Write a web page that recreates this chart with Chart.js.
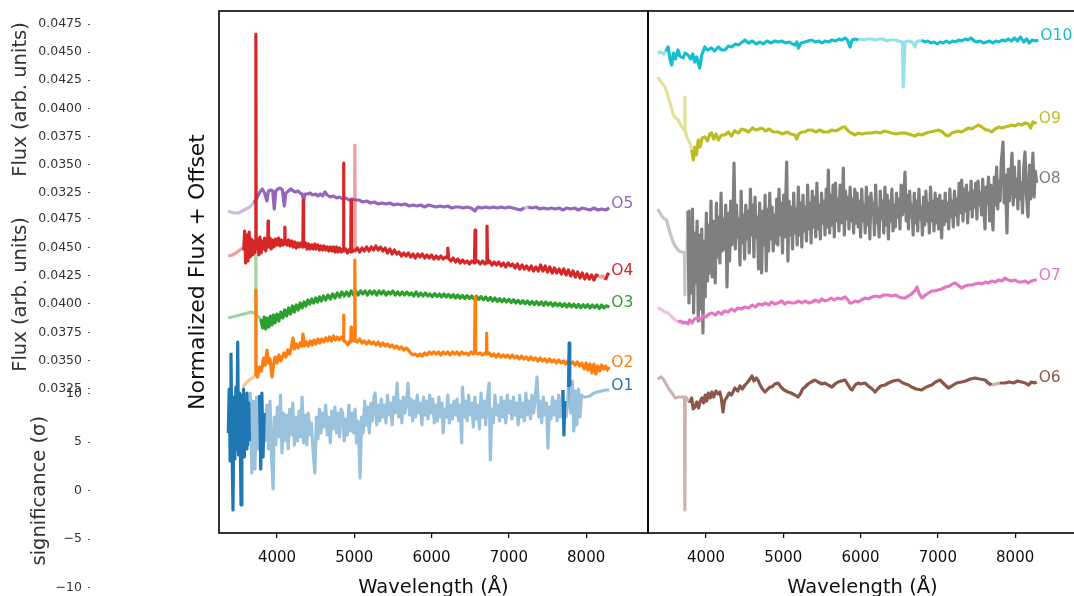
<!DOCTYPE html>
<html>
<head>
<meta charset="utf-8">
<script src="https://cdn.jsdelivr.net/npm/chart.js@4.4.1/dist/chart.umd.min.js"></script>
<style>
  html, body { margin: 0; padding: 0; background: #fff; overflow: hidden; }
  #fig { position: relative; width: 1074px; height: 596px; overflow: hidden; background: #fff; }
  #fig canvas { position: absolute; }
</style>
</head>
<body>
<div id="fig">
  <canvas id="fluxA" width="100" height="200" style="left:0;top:0;width:100px;height:200px"></canvas>
  <canvas id="fluxB" width="100" height="210" style="left:0;top:190px;width:100px;height:210px"></canvas>
  <canvas id="signif" width="100" height="216" style="left:0;top:380px;width:100px;height:216px"></canvas>
  <canvas id="blue" width="472" height="596" style="left:181px;top:0;width:472px;height:596px"></canvas>
  <canvas id="red" width="440" height="596" style="left:640px;top:0;width:440px;height:596px"></canvas>
</div>
<script>
// tick values
const waveTicks = [4000, 5000, 6000, 7000, 8000];
const fluxTicks = [0.0325, 0.035, 0.0375, 0.04, 0.0425, 0.045, 0.0475];
const sigTicks = [-10, -5, 0, 5, 10];

// spectra: [wavelength (A), normalized flux + offset]
const o1 = [[3370,5.0],[3382,7.2],[3394,3.6],[3405,8.95],[3418,4.4],[3431,1.15],[3444,6.8],[3456,3.7],[3468,7.3],[3480,4.2],[3492,9.55],[3504,3.9],[3516,7.0],[3526,4.3],[3535,1.4],[3546,6.9],[3556,4.0],[3568,7.2],[3578,3.8],[3590,6.6],[3600,4.2],[3612,7.0],[3622,4.4],[3634,6.5],[3644,4.6],
  [3655,7.0],[3675,3.0],[3695,6.6],[3715,3.2],[3735,6.8],[3755,4.2],[3775,6.9],[3790,3.2],[3805,7.0],[3820,3.8],[3835,6.0],
  [3850,4.6],[3870,6.4],[3890,4.2],[3910,6.6],[3930,3.8],[3950,2.2],[3965,5.8],[3985,4.4],[4005,6.3],[4025,4.8],[4045,6.9],[4065,4.0],[4085,6.0],[4105,4.6],[4125,5.9],[4145,4.2],[4165,6.2],[4185,4.9],[4205,6.5],[4225,4.4],[4245,5.8],[4265,4.6],[4285,6.1],[4305,4.8],[4325,6.8],[4345,4.5],[4365,5.9],[4385,4.4],[4405,6.0],[4425,4.9],[4445,5.5],[4465,4.2],[4490,3.0],[4510,5.8],[4530,4.7],[4550,6.2],[4570,5.0],[4590,6.0],[4610,5.3],[4630,6.4],[4650,4.9],[4670,5.8],[4690,4.5],[4710,6.1],[4730,5.2],[4750,6.3],[4770,5.0],[4790,6.0],[4810,4.8],[4830,6.2],[4850,6.0],[4870,4.6],[4890,5.7],[4910,4.9],[4930,6.4],[4950,5.1],[4970,6.0],[4990,5.0],[5010,6.2],[5030,4.5],[5050,5.6],[5075,2.75],[5095,5.8],[5115,5.0],[5135,6.6],[5155,5.4],[5175,6.3],[5195,5.0],[5215,6.5],[5235,5.6],[5255,6.8],[5270,7.0],[5290,5.4],[5310,6.4],[5330,5.6],[5350,6.7],[5370,5.8],[5390,6.4],[5410,5.5],[5430,6.9],[5450,5.9],[5470,6.5],[5490,5.4],[5510,6.8],[5530,6.0],[5555,7.5],[5575,5.8],[5595,6.6],[5615,5.5],[5635,6.8],[5655,6.0],[5675,6.5],[5695,7.5],[5715,5.9],[5735,6.7],[5755,5.6],[5775,6.6],[5795,5.8],[5815,6.9],[5835,6.0],[5855,6.5],[5875,5.4],[5895,6.8],[5915,5.9],[5935,6.6],[5955,5.7],[5975,6.9],[5995,6.0],[6015,6.7],[6035,5.5],[6055,6.4],[6075,5.6],[6095,6.8],[6115,5.8],[6135,6.5],[6150,5.0],[6170,6.2],[6190,5.8],[6210,6.9],[6230,5.5],[6250,6.4],[6270,5.7],[6290,6.6],[6310,5.9],[6330,6.7],[6350,5.6],[6370,6.4],[6390,4.5],[6400,7.3],[6420,5.8],[6440,6.6],[6460,5.6],[6480,6.9],[6500,5.9],[6520,6.5],[6540,5.3],[6560,6.8],[6580,5.7],[6600,6.4],[6620,5.2],[6640,7.0],[6660,5.8],[6680,6.6],[6700,5.4],[6720,6.7],[6745,7.5],[6760,3.65],[6780,6.2],[6800,5.5],[6820,6.9],[6840,5.9],[6860,6.4],[6880,5.6],[6900,6.8],[6920,5.8],[6940,6.6],[6960,5.5],[6980,6.9],[7000,6.0],[7020,6.6],[7040,5.7],[7060,6.8],[7080,5.9],[7100,6.5],[7120,5.4],[7140,6.9],[7160,5.8],[7180,6.5],[7200,5.6],[7220,7.0],[7240,5.9],[7260,6.6],[7280,5.7],[7300,6.9],[7320,6.0],[7340,6.7],[7365,7.8],[7385,5.8],[7405,6.6],[7425,5.5],[7445,6.8],[7465,5.9],[7485,6.5],[7505,4.25],[7525,6.3],[7545,5.7],[7565,6.8],[7585,5.9],[7605,6.6],[7625,5.6],[7645,6.9],[7665,5.8],[7685,6.4],
  [7700,7.15],[7712,4.9],[7724,6.6],[7740,5.8],[7760,6.5],[7772,7.3],[7780,9.5],[7788,7.4],[7800,6.0],[7820,7.6],[7840,5.1],[7860,7.1],[7880,5.4],[7900,7.2],[7920,5.8],[7940,6.9],[7960,6.8],[8000,6.8],[8050,6.85],[8100,7.0],[8150,7.05],[8200,7.1],[8250,7.15],[8300,7.15]];
const o2 = [[3560,7.3],[3600,7.5],[3640,7.65],[3680,7.75],[3715,7.85],[3723,7.9],[3727,12.15],[3731,7.9],[3750,7.8],[3775,8.3],[3800,8.1],[3825,8.75],[3850,8.4],[3871,9.15],[3890,8.5],[3910,8.7],[3936,7.8],[3955,8.4],[3975,8.8],[4000,8.5],[4025,8.9],[4050,8.6],[4065,8.75],[4090,9.0],[4115,8.8],[4140,9.15],[4165,8.95],[4185,9.3],[4207,9.75],[4225,9.2],[4250,9.45],[4275,9.25],[4300,9.5],[4320,9.35],[4337,9.95],[4355,9.35],[4380,9.55],[4405,9.35],[4430,9.6],[4455,9.4],[4480,9.65],[4505,9.45],[4530,9.7],[4555,9.5],[4580,9.7],[4605,9.55],[4630,9.75],[4655,9.6],[4680,9.8],[4705,9.6],[4730,9.85],[4755,9.65],[4780,9.8],[4805,9.65],[4830,9.8],[4855,9.7],[4861,10.9],[4867,9.6],[4890,9.55],[4919,9.4],[4940,9.6],[4954,9.55],[4959,10.3],[4964,9.6],[4985,9.7],[5002,9.6],[5007,13.65],[5012,9.6],[5040,9.55],[5070,9.7],[5100,9.5],[5130,9.6],[5160,9.45],[5190,9.6],[5220,9.45],[5250,9.55],[5280,9.4],[5310,9.55],[5340,9.35],[5370,9.5],[5400,9.35],[5430,9.45],[5460,9.3],[5490,9.4],[5520,9.25],[5550,9.35],[5580,9.2],[5610,9.3],[5640,9.15],[5670,9.25],[5700,9.15],[5730,9.0],[5760,8.9],[5790,8.95],[5820,8.85],[5850,8.95],[5880,8.85],[5910,9.0],[5940,8.9],[5970,9.05],[6000,8.95],[6030,9.05],[6060,8.95],[6090,9.05],[6120,8.9],[6150,9.05],[6180,8.95],[6210,9.05],[6240,8.9],[6270,9.05],[6300,8.95],[6330,9.05],[6360,8.9],[6390,9.05],[6420,8.95],[6450,9.0],[6480,8.9],[6510,9.05],[6540,8.95],[6556,9.05],[6563,11.8],[6570,9.0],[6600,8.95],[6630,9.0],[6660,8.9],[6690,9.0],[6706,8.95],[6712,10.0],[6718,8.95],[6745,9.0],[6775,8.85],[6805,8.95],[6835,8.8],[6865,8.95],[6895,8.8],[6925,8.9],[6955,8.8],[6985,8.9],[7015,8.75],[7045,8.9],[7075,8.75],[7105,8.85],[7135,8.7],[7165,8.85],[7195,8.7],[7225,8.8],[7255,8.65],[7285,8.8],[7315,8.65],[7345,8.75],[7375,8.6],[7405,8.75],[7435,8.6],[7465,8.7],[7495,8.55],[7525,8.7],[7555,8.55],[7585,8.65],[7615,8.5],[7645,8.65],[7675,8.5],[7705,8.6],[7735,8.45],[7765,8.6],[7795,8.45],[7825,8.55],[7855,8.4],[7885,8.55],[7915,8.35],[7945,8.5],[7975,8.2],[8000,8.5],[8025,8.15],[8050,8.45],[8075,8.0],[8100,8.45],[8125,7.95],[8150,8.35],[8175,8.1],[8200,8.4],[8225,8.2],[8250,8.35],[8275,8.15],[8300,8.3]];
const o3 = [[3370,10.75],[3420,10.8],[3470,10.85],[3520,10.9],[3570,10.95],[3620,11.0],[3670,11.05],[3700,11.0],[3723,10.95],[3727,13.85],[3731,10.9],[3760,10.8],[3790,10.7],
  [3815,10.25],[3835,10.8],[3855,10.2],[3875,10.75],[3895,10.3],[3915,10.85],[3935,10.4],[3955,10.9],[3975,10.5],[4000,10.95],[4025,10.6],[4050,11.05],[4075,10.75],[4100,11.15],[4125,10.85],[4150,11.25],[4175,10.95],[4200,11.35],[4225,11.05],[4250,11.4],[4275,11.15],[4300,11.5],[4325,11.25],[4350,11.55],[4375,11.35],[4400,11.65],[4425,11.45],[4450,11.7],[4475,11.5],[4500,11.75],[4525,11.55],[4550,11.8],[4575,11.6],[4600,11.85],[4630,11.65],[4660,11.9],[4690,11.7],[4720,11.95],[4750,11.75],[4780,12.0],[4810,11.8],[4840,12.05],[4870,11.85],[4900,12.05],[4930,11.85],[4960,12.1],[4990,11.9],[5020,12.1],[5050,11.9],[5080,12.1],[5110,11.95],[5140,12.1],[5170,11.9],[5200,12.1],[5230,11.95],[5260,12.1],[5290,11.9],[5320,12.1],[5350,11.95],[5380,12.1],[5410,11.9],[5440,12.05],[5470,11.95],[5500,12.1],[5530,11.9],[5560,12.05],[5590,11.9],[5620,12.05],[5650,11.9],[5680,12.05],[5710,11.9],[5740,12.0],[5770,11.85],[5800,12.05],[5830,11.85],[5860,12.0],[5890,11.85],[5920,12.0],[5950,11.85],
  [5980,11.95],[6010,11.82],[6040,11.97],[6070,11.83],[6100,11.95],[6130,11.8],[6160,11.95],[6190,11.8],[6220,11.93],[6250,11.78],[6280,11.92],[6310,11.75],[6340,11.9],[6370,11.74],[6400,11.88],[6430,11.72],[6460,11.87],[6490,11.72],[6520,11.85],[6550,11.7],[6580,11.84],[6610,11.68],[6640,11.82],[6670,11.66],[6700,11.8],[6730,11.63],[6760,11.78],[6790,11.6],[6820,11.75],[6850,11.58],[6880,11.72],[6910,11.56],[6940,11.7],[6970,11.55],[7000,11.68],[7030,11.52],[7060,11.66],[7090,11.5],[7120,11.63],[7150,11.48],[7180,11.62],[7210,11.46],[7240,11.6],[7270,11.44],[7300,11.58],[7330,11.42],[7360,11.57],[7390,11.41],[7420,11.55],[7450,11.38],[7480,11.55],[7510,11.4],[7540,11.52],[7570,11.35],[7600,11.5],[7630,11.36],[7660,11.48],[7690,11.33],[7720,11.47],[7750,11.3],[7780,11.46],[7810,11.3],[7840,11.44],[7870,11.28],[7900,11.43],[7930,11.26],[7960,11.42],[7990,11.28],[8020,11.42],[8050,11.25],[8080,11.4],[8110,11.27],[8140,11.4],[8170,11.22],[8200,11.4],[8230,11.25],[8260,11.36],[8300,11.3]];
const o4 = [[3370,13.85],[3420,13.9],[3470,14.0],[3520,14.15],[3555,14.25],
  [3570,14.2],[3582,15.1],[3595,13.5],[3610,14.9],[3625,13.6],[3640,15.05],[3655,13.8],[3670,14.7],[3685,13.9],[3700,14.6],[3715,14.0],[3723,14.4],[3727,24.95],[3731,14.3],[3750,14.7],[3765,13.9],[3780,14.8],[3795,14.0],[3810,14.6],[3825,14.2],[3840,14.75],[3855,14.1],[3870,14.5],[3880,14.3],[3885,15.6],[3890,14.3],[3910,14.75],[3925,14.2],[3945,14.65],[3960,14.3],[3980,14.7],[4000,14.4],[4020,14.75],[4040,14.35],[4060,14.65],[4080,14.4],[4097,14.6],[4102,15.3],[4107,14.5],[4130,14.4],[4150,14.65],[4170,14.35],[4190,14.6],[4210,14.3],[4230,14.55],[4250,14.25],[4270,14.5],[4290,14.3],[4310,14.5],[4335,14.3],[4340,16.65],[4345,14.3],[4370,14.5],[4390,14.2],[4410,14.45],[4430,14.2],[4450,14.4],[4470,14.2],[4490,14.45],[4510,14.2],[4530,14.4],[4550,14.15],[4570,14.35],[4590,14.15],[4610,14.35],[4630,14.15],[4650,14.3],[4670,14.1],[4690,14.3],[4710,14.1],[4730,14.3],[4750,14.05],[4770,14.3],[4790,14.05],[4810,14.25],[4830,14.05],[4856,14.2],[4861,18.5],[4866,14.1],[4890,14.2],[4910,14.0],[4930,14.15],[4954,14.05],[4959,16.65],[4964,14.05],[4985,14.15],[5002,14.05],[5007,19.4],[5012,14.1],
  [5040,14.25],[5070,14.05],[5100,14.25],[5130,14.1],[5160,14.3],[5190,14.1],[5220,14.3],[5250,14.15],[5280,14.35],[5310,14.15],[5340,14.3],[5370,14.1],[5400,14.25],[5430,14.0],[5460,14.2],[5490,13.95],[5520,14.15],[5550,13.95],[5580,14.05],[5610,13.85],[5640,14.0],[5670,13.85],[5700,14.0],[5730,13.8],[5760,13.95],[5790,13.75],[5820,13.95],[5850,13.8],[5880,13.95],[5910,13.75],[5940,13.9],[5970,13.75],[6000,13.9],[6030,13.7],[6060,13.85],[6090,13.7],[6120,13.85],[6150,13.7],[6180,13.8],[6200,13.75],[6210,14.25],[6220,13.75],[6250,13.6],[6280,13.75],[6310,13.55],[6340,13.7],[6370,13.5],[6400,13.65],[6430,13.5],[6460,13.6],[6490,13.45],[6520,13.6],[6555,13.5],[6563,15.15],[6571,13.55],[6600,13.6],[6630,13.45],[6660,13.6],[6690,13.45],[6710,13.55],[6717,15.35],[6724,13.5],[6750,13.6],[6780,13.4],[6810,13.55],[6840,13.4],[6870,13.55],[6900,13.35],[6930,13.5],[6960,13.3],[6990,13.5],[7020,13.35],[7050,13.45],[7080,13.25],[7110,13.45],[7140,13.2],[7170,13.4],[7200,13.2],[7230,13.35],[7260,13.15],[7290,13.35],[7320,13.1],[7350,13.3],[7380,13.1],[7410,13.4],[7440,13.1],[7470,13.35],[7500,13.05],[7530,13.3],[7560,13.0],[7590,13.25],[7620,13.0],[7650,13.2],[7680,12.95],[7710,13.2],[7740,12.9],[7770,13.15],[7800,12.85],[7830,13.1],[7860,12.8],[7890,13.05],[7920,12.75],[7950,13.0],[7980,12.7],[8010,12.95],[8040,12.7],[8070,12.9],[8100,12.65],[8130,12.9],[8160,12.85],[8190,12.8],[8220,12.85],[8250,12.65],[8280,12.95],[8300,12.9]];
const o5 = [[3370,16.1],[3400,16.05],[3450,16.0],[3500,16.0],[3550,16.1],[3600,16.2],[3650,16.3],[3700,16.5],[3740,16.75],[3780,17.05],[3810,17.2],[3840,17.0],[3870,16.6],[3890,17.1],[3920,17.15],[3945,17.1],[3965,16.2],[3985,17.1],[4010,17.2],[4040,17.25],[4070,17.15],[4095,16.35],[4115,17.0],[4150,17.1],[4180,17.2],[4210,17.1],[4240,17.05],[4270,17.1],[4300,17.0],[4325,16.95],[4345,16.65],[4365,16.95],[4400,16.95],[4430,17.0],[4460,16.9],[4500,16.95],[4530,16.85],[4560,16.95],[4590,16.85],[4620,17.05],[4650,16.9],[4690,16.8],[4730,16.85],[4770,16.75],[4810,16.8],[4850,16.7],[4890,16.75],[4930,16.65],[4970,16.7],[5010,16.65],[5060,16.65],[5110,16.55],[5160,16.6],[5210,16.5],[5260,16.55],[5310,16.45],[5360,16.5],[5410,16.45],[5460,16.5],[5510,16.4],[5560,16.45],[5610,16.4],[5660,16.45],[5710,16.35],[5760,16.4],[5810,16.35],[5860,16.4],[5910,16.3],[5960,16.4],[6010,16.35],[6060,16.3],[6110,16.35],[6160,16.3],[6210,16.35],[6260,16.25],[6310,16.3],[6360,16.3],[6410,16.25],[6460,16.3],[6510,16.25],[6560,16.1],[6600,16.3],[6650,16.25],[6700,16.3],[6750,16.25],[6800,16.3],[6850,16.25],[6900,16.3],[6950,16.25],[7000,16.3],[7050,16.25],[7100,16.2],[7150,16.15],[7200,16.25],[7250,16.3],[7300,16.25],[7350,16.3],[7400,16.2],[7450,16.25],[7500,16.2],[7550,16.25],[7600,16.2],[7650,16.25],[7700,16.15],[7750,16.25],[7800,16.2],[7850,16.25],[7900,16.15],[7950,16.25],[8000,16.2],[8050,16.15],[8100,16.25],[8150,16.15],[8200,16.2],[8250,16.15],[8300,16.25]];

const o6 = [[3375,7.7],[3418,7.8],[3445,7.7],[3470,7.55],[3520,7.2],[3560,7.0],[3600,6.75],[3650,6.8],[3690,6.8],[3722,6.8],[3727,1.15],[3732,6.8],[3760,6.7],
  [3793,6.5],[3815,6.75],[3835,6.2],[3858,6.3],[3880,6.55],[3905,6.25],[3925,6.6],[3948,6.75],[3970,6.5],[3990,6.9],[4010,6.6],[4030,7.0],[4055,6.75],[4078,7.05],[4100,6.8],[4130,7.1],[4155,6.95],[4180,7.05],[4200,6.7],[4220,6.05],[4240,6.6],[4272,6.8],[4300,7.0],[4330,6.9],[4375,7.25],[4410,7.1],[4440,7.35],[4470,7.2],[4505,7.4],[4530,7.5],[4560,7.65],[4596,7.85],[4620,7.6],[4650,7.75],[4673,7.65],[4700,7.4],[4730,7.2],[4764,7.05],[4800,7.2],[4830,7.3],[4854,7.3],[4890,7.45],[4932,7.5],[4970,7.3],[5010,7.15],[5061,7.05],[5100,7.0],[5150,6.9],[5190,6.8],[5220,6.95],[5250,7.2],[5281,7.3],[5320,7.45],[5360,7.55],[5410,7.65],[5450,7.55],[5500,7.45],[5539,7.5],[5580,7.4],[5630,7.3],[5670,7.45],[5708,7.55],[5750,7.6],[5799,7.65],[5840,7.4],[5870,7.2],[5889,7.15],[5930,7.4],[5967,7.5],[6000,7.45],[6057,7.5],[6100,7.35],[6150,7.2],[6187,7.05],[6220,7.2],[6260,7.35],[6316,7.4],[6360,7.5],[6420,7.6],[6489,7.65],[6550,7.5],[6618,7.4],[6660,7.3],[6720,7.2],[6791,7.15],[6850,7.3],[6920,7.4],[6970,7.55],[7028,7.65],[7080,7.45],[7135,7.25],[7180,7.35],[7240,7.5],[7308,7.55],[7360,7.6],[7420,7.7],[7481,7.75],[7540,7.7],[7610,7.65],[7650,7.5],[7696,7.4],[7750,7.45],[7800,7.5],[7869,7.5],[7920,7.55],[7980,7.5],[8030,7.6],[8085,7.55],[8130,7.5],[8171,7.4],[8210,7.55],[8250,7.5],[8278,7.55]];
const o7 = [[3375,11.2],[3400,11.25],[3430,11.15],[3470,11.05],[3510,11.0],[3560,10.8],[3600,10.65],[3640,10.55],
  [3670,10.6],[3700,10.5],[3730,10.55],[3767,10.45],[3790,10.65],[3820,10.5],[3850,10.7],[3897,10.75],[3930,10.65],[3960,10.85],[4000,10.8],[4040,10.95],[4078,11.0],[4120,10.9],[4160,11.05],[4200,10.95],[4240,11.1],[4285,11.05],[4330,11.2],[4370,11.1],[4410,11.25],[4460,11.2],[4505,11.3],[4550,11.25],[4600,11.4],[4640,11.3],[4680,11.45],[4725,11.4],[4770,11.5],[4810,11.4],[4850,11.55],[4890,11.45],[4932,11.5],[4980,11.6],[5020,11.45],[5060,11.55],[5110,11.5],[5152,11.5],[5200,11.6],[5240,11.5],[5280,11.6],[5330,11.5],[5372,11.55],[5420,11.65],[5460,11.55],[5500,11.7],[5540,11.6],[5580,11.65],[5620,11.75],[5660,11.65],[5700,11.75],[5750,11.7],[5799,11.8],[5830,11.7],[5860,11.5],[5889,11.5],[5930,11.6],[5967,11.55],[6010,11.65],[6060,11.75],[6100,11.7],[6148,11.8],[6200,11.85],[6250,11.8],[6300,11.9],[6355,11.9],[6400,11.85],[6450,11.9],[6500,11.8],[6540,11.75],[6575,11.75],[6620,11.85],[6660,11.95],[6700,12.1],[6730,12.3],[6760,11.95],[6795,11.75],[6840,11.9],[6880,12.0],[6920,12.1],[6960,12.1],[7002,12.15],[7050,12.2],[7100,12.3],[7150,12.35],[7190,12.45],[7222,12.5],[7260,12.4],[7290,12.3],[7312,12.25],[7350,12.35],[7400,12.4],[7442,12.4],[7480,12.45],[7530,12.5],[7570,12.45],[7610,12.55],[7649,12.5],[7700,12.6],[7740,12.55],[7790,12.65],[7830,12.6],[7869,12.75],[7910,12.65],[7950,12.6],[8000,12.65],[8040,12.55],[8088,12.55],[8130,12.6],[8170,12.5],[8210,12.6],[8256,12.65],[8280,12.65]];
const o8 = [[3375,16.2],[3383,16.15],[3420,15.9],[3450,15.75],[3490,15.65],[3535,15.0],[3580,14.5],[3610,14.3],[3650,14.1],[3690,14.05],[3722,14.0],[3727,11.9],[3732,14.0],[3755,14.05],
  [3768,16.1],[3780,11.5],[3795,15.3],[3810,12.0],[3825,16.2],[3840,11.0],[3855,15.0],[3870,12.5],[3885,15.6],[3900,10.6],[3915,14.9],[3930,11.2],[3945,15.2],[3961,10.0],[3975,14.6],[3990,11.8],[4005,16.0],[4020,12.6],[4035,15.4],[4050,13.0],[4065,16.6],[4080,12.8],[4095,15.6],[4110,13.6],[4120,12.5],[4135,16.5],[4150,13.8],[4165,15.8],[4180,13.5],[4195,17.0],[4210,14.1],[4225,15.7],[4240,14.2],[4255,16.4],[4272,12.3],[4290,16.0],[4305,13.6],[4320,16.6],[4335,14.4],[4350,15.6],[4363,18.5],[4380,14.2],[4395,16.4],[4410,14.8],[4425,15.7],[4440,13.4],[4455,17.1],[4470,14.5],[4485,15.9],[4500,13.7],[4515,16.4],[4530,14.7],[4545,16.1],[4560,14.0],[4575,17.2],[4590,14.9],[4605,16.4],[4620,13.8],[4635,16.8],[4650,14.8],[4665,15.8],[4680,13.2],[4695,16.5],[4710,14.6],[4720,13.0],[4735,16.1],[4750,14.4],[4765,16.9],[4780,13.1],[4795,16.2],[4810,14.1],[4825,17.0],[4840,14.7],[4855,16.3],[4870,14.1],[4885,15.9],[4900,14.5],[4915,16.7],[4930,14.4],[4945,17.2],[4960,14.9],[4975,16.5],[4990,14.0],[5005,16.9],[5020,14.8],[5044,18.55],[5060,13.6],[5075,16.6],[5090,14.9],[5105,16.3],[5120,14.2],[5135,17.0],[5150,15.0],[5165,16.2],[5180,14.4],[5195,17.3],[5210,14.9],[5225,16.5],[5240,14.3],[5255,16.9],[5270,15.1],[5285,16.3],[5300,14.6],[5315,17.4],[5330,15.2],[5345,16.5],[5360,14.5],[5375,17.1],[5390,15.3],[5405,16.8],[5420,14.8],[5435,17.5],[5450,15.2],[5465,16.4],[5480,14.7],[5495,17.0],[5510,15.5],[5525,16.6],[5540,14.9],[5555,17.2],[5570,15.3],[5583,18.15],[5600,15.0],[5615,16.9],[5630,15.4],[5645,17.4],[5660,14.8],[5675,17.5],[5690,15.6],[5705,16.7],[5720,15.1],[5735,17.4],[5750,15.5],[5765,16.5],[5777,18.25],[5790,14.9],[5805,17.1],[5820,15.7],[5835,16.8],[5850,15.2],[5865,17.3],[5880,15.6],[5895,16.7],[5910,15.0],[5925,17.2],[5940,15.5],
  [5955,17.0],[5970,15.3],[5985,16.6],[6000,14.8],[6015,17.2],[6030,15.6],[6045,16.4],[6060,15.0],[6075,17.3],[6090,15.4],[6105,16.8],[6120,14.7],[6135,17.0],[6150,15.9],[6165,16.5],[6180,14.9],[6195,17.4],[6210,15.5],[6225,16.2],[6240,14.8],[6255,17.1],[6270,15.7],[6285,16.6],[6300,15.0],[6315,17.3],[6330,15.4],[6345,16.9],[6360,14.7],[6375,16.6],[6390,15.6],[6405,17.2],[6420,15.1],[6435,16.4],[6450,15.3],[6465,17.0],[6480,15.8],[6495,16.7],[6510,15.2],[6525,17.4],[6540,15.9],[6555,16.3],[6575,18.05],[6590,15.6],[6605,16.9],[6620,15.2],[6635,17.1],[6650,15.8],[6665,16.4],[6680,14.9],[6695,17.0],[6710,15.5],[6725,16.6],[6740,15.1],[6755,17.2],[6770,15.7],[6785,16.3],[6800,14.9],[6815,16.8],[6830,15.4],[6845,17.1],[6860,15.6],[6875,16.5],[6890,15.0],[6905,17.3],[6920,15.6],[6935,16.6],[6950,15.1],[6965,17.0],[6980,15.5],[6995,16.7],[7010,15.2],[7025,16.9],[7049,14.75],[7065,16.6],[7080,15.4],[7095,17.0],[7110,15.6],[7125,16.5],[7140,15.2],[7155,17.2],[7170,15.8],[7185,16.6],[7200,15.3],[7215,17.1],[7230,15.9],[7245,16.7],[7260,15.4],[7275,17.5],[7290,16.0],[7308,17.65],[7325,15.6],[7340,17.2],[7355,16.1],[7370,17.4],[7385,15.5],[7400,17.0],[7415,16.2],[7430,17.6],[7445,15.8],[7460,17.1],[7475,16.3],[7490,17.5],[7505,15.7],[7520,17.6],[7535,16.4],[7550,17.0],[7565,15.9],[7580,17.7],[7595,16.2],[7610,15.2],[7625,17.3],[7640,16.5],[7655,17.8],[7670,15.6],[7685,17.4],[7700,16.2],[7713,15.15],[7730,17.8],[7745,16.4],[7760,18.3],[7775,16.2],[7790,17.6],[7805,16.6],[7820,18.5],[7843,19.55],[7858,16.5],[7873,17.9],[7894,15.0],[7910,18.2],[7925,16.6],[7940,17.6],[7959,19.0],[7975,16.4],[7990,18.3],[8005,16.8],[8020,17.7],[8035,16.2],[8050,18.6],[8065,16.7],[8080,17.5],[8095,16.0],[8110,18.2],[8127,19.05],[8145,16.9],[8166,15.8],[8185,18.4],[8200,16.7],[8215,17.9],[8230,19.0],[8245,16.8],[8260,18.1],[8278,17.5]];
const o9 = [[3375,22.8],[3383,22.75],[3430,22.5],[3470,22.3],[3505,21.9],[3535,21.5],[3578,20.9],[3610,20.75],[3642,20.65],[3686,20.3],[3722,20.15],[3727,21.8],[3732,20.1],[3751,19.8],[3793,19.5],
  [3815,19.15],[3836,18.65],[3855,19.3],[3875,18.9],[3900,19.65],[3925,19.3],[3950,19.75],[3987,19.8],[4020,19.6],[4050,19.95],[4073,20.0],[4100,19.7],[4130,19.95],[4160,19.65],[4200,19.9],[4246,19.9],[4290,20.05],[4330,19.85],[4370,20.1],[4419,20.0],[4460,20.2],[4505,20.15],[4550,20.05],[4600,20.25],[4650,20.15],[4720,20.25],[4770,20.1],[4820,20.2],[4870,20.05],[4936,20.05],[4990,19.95],[5050,20.05],[5100,19.95],[5152,19.9],[5174,19.7],[5200,19.95],[5240,20.05],[5281,20.05],[5320,20.15],[5368,20.15],[5420,20.05],[5470,20.15],[5520,20.05],[5583,20.05],[5630,20.15],[5680,20.1],[5730,20.2],[5770,20.3],[5799,20.3],[5840,20.1],[5880,20.0],[5930,19.9],[5971,20.0],[6020,19.95],[6080,20.0],[6144,20.0],[6200,20.05],[6260,20.0],[6300,20.1],[6359,20.05],[6400,20.0],[6460,19.95],[6520,20.0],[6575,20.0],[6620,19.95],[6660,19.9],[6704,19.85],[6750,19.95],[6791,19.9],[6850,20.0],[6900,20.05],[6960,20.1],[7006,20.15],[7060,20.05],[7100,19.9],[7135,19.85],[7180,20.0],[7222,20.05],[7260,20.1],[7308,20.05],[7350,20.15],[7400,20.25],[7437,20.2],[7480,20.3],[7523,20.4],[7570,20.3],[7620,20.15],[7653,20.15],[7696,20.05],[7740,20.2],[7790,20.3],[7830,20.25],[7869,20.3],[7920,20.35],[7960,20.4],[7998,20.35],[8040,20.45],[8085,20.4],[8130,20.5],[8171,20.45],[8200,20.25],[8230,20.55],[8256,20.5],[8280,20.5]];
const o10 = [[3375,24.0],[3410,24.05],[3450,23.95],[3480,24.1],
  [3510,24.3],[3535,23.7],[3557,23.4],[3580,24.0],[3605,23.7],[3638,24.15],[3660,23.85],[3703,23.75],[3730,24.0],[3768,23.9],[3800,23.7],[3830,23.95],[3855,23.55],[3880,23.8],[3900,23.5],[3920,23.25],[3945,23.9],[3984,24.3],[4020,24.15],[4073,24.25],[4110,24.1],[4160,24.3],[4200,24.15],[4246,24.15],[4290,24.35],[4332,24.3],[4380,24.45],[4420,24.4],[4470,24.55],[4505,24.65],[4550,24.5],[4600,24.6],[4650,24.45],[4700,24.55],[4740,24.45],[4790,24.6],[4840,24.5],[4890,24.6],[4936,24.55],[4980,24.6],[5030,24.5],[5080,24.55],[5120,24.45],[5152,24.4],[5175,24.55],[5195,24.25],[5230,24.5],[5280,24.55],[5320,24.6],[5368,24.65],[5410,24.55],[5460,24.6],[5500,24.5],[5540,24.6],[5583,24.55],[5630,24.65],[5680,24.6],[5720,24.7],[5760,24.65],[5799,24.75],[5830,24.65],[5863,24.3],[5890,24.65],[5930,24.7],[5971,24.65],
  [5990,24.7],[6040,24.65],[6090,24.7],[6140,24.7],[6190,24.65],[6240,24.7],[6290,24.7],[6340,24.6],[6390,24.65],[6440,24.65],[6490,24.6],[6540,24.55],[6553,22.3],[6575,24.55],[6620,24.6],[6665,24.55],[6704,24.3],[6720,24.55],[6790,24.65],
  [6830,24.55],[6870,24.6],[6910,24.5],[6950,24.55],[6990,24.45],[7030,24.55],[7070,24.5],[7110,24.6],[7150,24.5],[7190,24.6],[7230,24.55],[7270,24.65],[7310,24.6],[7350,24.7],[7390,24.65],[7430,24.75],[7470,24.6],[7510,24.55],[7550,24.6],[7590,24.5],[7630,24.55],[7670,24.6],[7710,24.5],[7750,24.6],[7790,24.55],[7830,24.65],[7870,24.6],[7910,24.7],[7950,24.6],[7990,24.75],[8030,24.6],[8070,24.8],[8110,24.55],[8150,24.7],[8180,24.5],[8220,24.65],[8260,24.6],[8300,24.65]];

// wavelength ranges drawn at full opacity (the rest is faded)
const o1Solid = [[3360, 3648], [3770, 3838], [7700, 7726], [7770, 7790]];
const o2Solid = [[3720, 8310]];
const o3Solid = [[3800, 8310]];
const o4Solid = [[3560, 5003], [5011, 8170], [8260, 8310]];
const o5Solid = [[3720, 7180], [7260, 8310]];
const o6Solid = [[3780, 7680], [7830, 8310]];
const o7Solid = [[3650, 8310]];
const o8Solid = [[3762, 8310]];
const o9Solid = [[3805, 8310]];
const o10Solid = [[3490, 5975], [6800, 8310]];

const palette = ['#1f77b4', '#ff7f0e', '#2ca02c', '#d62728', '#9467bd',
                 '#8c564b', '#e377c2', '#7f7f7f', '#bcbd22', '#17becf'];

Chart.defaults.font.family = "'DejaVu Sans', sans-serif";

function faded(hex) {
  const n = parseInt(hex.slice(1), 16);
  return 'rgba(' + (n >> 16) + ',' + ((n >> 8) & 255) + ',' + (n & 255) + ',0.45)';
}

function inRanges(ranges, x) {
  return ranges.some(r => x >= r[0] && x <= r[1]);
}

function spectrum(name, pts, solid, color) {
  return {
    label: name,
    data: pts.map(p => ({ x: p[0], y: p[1] })),
    borderColor: color,
    borderWidth: 3.2,
    borderJoinStyle: 'round',
    pointRadius: 0,
    fill: false,
    tension: 0,
    segment: {
      borderColor: ctx => {
        const mid = (pts[ctx.p0DataIndex][0] + pts[ctx.p1DataIndex][0]) / 2;
        return inRanges(solid, mid) ? color : faded(color);
      }
    }
  };
}

// name at the red end of each spectrum
const endLabels = {
  id: 'endLabels',
  afterDatasetsDraw(chart) {
    const ctx = chart.ctx;
    ctx.save();
    ctx.font = "15.5px 'DejaVu Sans'";
    ctx.textBaseline = 'middle';
    chart.data.datasets.forEach((ds, i) => {
      const pts = chart.getDatasetMeta(i).data;
      const last = pts[pts.length - 1];
      ctx.fillStyle = ds.borderColor;
      ctx.fillText(ds.label, last.x + 2, last.y - 4);
    });
    ctx.restore();
  }
};

// box around the plotting area
const frame = {
  id: 'frame',
  afterDraw(chart) {
    const { ctx, chartArea: a } = chart;
    ctx.save();
    ctx.strokeStyle = '#000';
    ctx.lineWidth = 1.6;
    ctx.strokeRect(a.left, a.top, a.right - a.left, a.bottom - a.top);
    ctx.restore();
  }
};

function panel(id, datasets, withYTitle, padding) {
  new Chart(document.getElementById(id), {
    type: 'line',
    data: { datasets: datasets },
    plugins: [endLabels, frame],
    options: {
      responsive: false,
      animation: false,
      events: [],
      layout: { padding: padding },
      plugins: { legend: { display: false }, tooltip: { enabled: false } },
      scales: {
        x: {
          type: 'linear', min: 3250, max: 8800,
          afterBuildTicks: s => { s.ticks = waveTicks.map(v => ({ value: v })); },
          afterFit: s => { s.height = 63; },
          grid: { drawOnChartArea: false, drawTicks: true, tickLength: 5, color: '#000', lineWidth: 1.2 },
          border: { display: false },
          ticks: { font: { size: 15 }, color: '#111', padding: 11, maxRotation: 0, callback: v => String(v) },
          title: { display: true, text: 'Wavelength (Å)', font: { size: 19.5 }, color: '#111', padding: { top: 0, bottom: -4 } }
        },
        y: {
          type: 'linear', min: 0, max: 26.1,
          display: withYTitle,
          afterFit: s => { s.width = withYTitle ? 38 : 0; },
          grid: { display: false },
          border: { display: false },
          ticks: { display: false },
          title: { display: true, text: 'Normalized Flux + Offset', font: { size: 22 }, color: '#111', padding: { top: 4, bottom: 4 } }
        }
      }
    }
  });
}

panel('blue', [
  spectrum('O1', o1, o1Solid, palette[0]),
  spectrum('O2', o2, o2Solid, palette[1]),
  spectrum('O3', o3, o3Solid, palette[2]),
  spectrum('O4', o4, o4Solid, palette[3]),
  spectrum('O5', o5, o5Solid, palette[4])
], true, { left: 0, right: 5, top: 11, bottom: 0 });

panel('red', [
  spectrum('O6', o6, o6Solid, palette[5]),
  spectrum('O7', o7, o7Solid, palette[6]),
  spectrum('O8', o8, o8Solid, palette[7]),
  spectrum('O9', o9, o9Solid, palette[8]),
  spectrum('O10', o10, o10Solid, palette[9])
], false, { left: 8, right: 3, top: 11, bottom: 0 });

// stray axes at the far left
function sideAxis(id, min, max, ticks, fmt, title, padding) {
  new Chart(document.getElementById(id), {
    type: 'line',
    data: { datasets: [] },
    options: {
      responsive: false,
      animation: false,
      events: [],
      layout: { padding: padding },
      plugins: { legend: { display: false }, tooltip: { enabled: false } },
      scales: {
        x: { type: 'linear', display: false, min: 0, max: 1 },
        y: {
          type: 'linear', min: min, max: max,
          afterBuildTicks: s => { s.ticks = ticks.map(v => ({ value: v })); },
          afterFit: s => {
            s.width = 90 - padding.left;
            s.paddingTop = 0;
            s.paddingBottom = 0;
          },
          grid: { drawOnChartArea: false, drawTicks: true, tickLength: 2, color: '#555' },
          border: { display: false },
          ticks: { font: { size: 12.5 }, color: '#333', padding: 6, autoSkip: false, callback: fmt },
          title: { display: true, text: title, font: { size: 19.5 }, color: '#333', padding: { top: 4, bottom: 4 } }
        }
      }
    }
  });
}

const fluxFmt = v => v.toFixed(4);
const sigFmt = v => (v < 0 ? '\u2212' + Math.abs(v) : String(v));

sideAxis('fluxA', 0.03238, 0.04919, fluxTicks, fluxFmt, 'Flux (arb. units)', { left: 5.3, right: 0, top: 5, bottom: 6 });
sideAxis('fluxB', 0.03241, 0.04926, fluxTicks, fluxFmt, 'Flux (arb. units)', { left: 5.3, right: 0, top: 9, bottom: 10 });
sideAxis('signif', -10.8, 10.8, sigTicks, sigFmt, 'significance (\u03c3)', { left: 23.8, right: 0, top: 5.9, bottom: 0.5 });
</script>
</body>
</html>
